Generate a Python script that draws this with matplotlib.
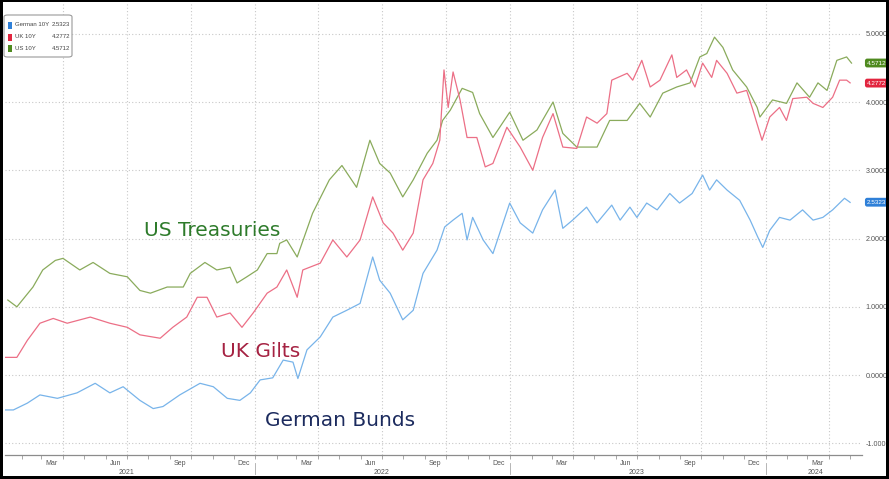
"""10Y government bond yields: US Treasuries vs UK Gilts vs German Bunds, 2021-2024."""

import matplotlib
matplotlib.use("Agg")
import matplotlib.dates as mdates
import matplotlib.pyplot as plt
import pandas as pd
from matplotlib.patches import FancyBboxPatch, Rectangle
from matplotlib.ticker import FuncFormatter
from matplotlib.transforms import blended_transform_factory

# --- data (approximate) ---
us_dates = [
    "2021-01-12", "2021-01-25", "2021-02-17", "2021-03-03", "2021-03-21", "2021-04-01",
    "2021-04-25", "2021-05-14", "2021-06-07", "2021-07-02", "2021-07-20", "2021-08-04",
    "2021-08-28", "2021-09-20", "2021-09-30", "2021-10-21", "2021-11-07", "2021-11-26",
    "2021-12-06", "2021-12-20", "2022-01-04", "2022-01-18", "2022-02-01", "2022-02-05",
    "2022-02-15", "2022-03-02", "2022-03-24", "2022-04-17", "2022-05-05", "2022-05-26",
    "2022-06-14", "2022-06-28", "2022-07-13", "2022-07-31", "2022-08-15", "2022-09-04",
    "2022-09-18", "2022-09-26", "2022-10-07", "2022-10-24", "2022-11-08", "2022-11-18",
    "2022-12-07", "2022-12-31", "2023-01-19", "2023-02-08", "2023-03-03", "2023-03-17",
    "2023-04-06", "2023-05-05", "2023-05-23", "2023-06-17", "2023-07-05", "2023-07-20",
    "2023-08-07", "2023-08-27", "2023-09-15", "2023-09-29", "2023-10-09", "2023-10-20",
    "2023-11-01", "2023-11-15", "2023-12-05", "2023-12-20", "2023-12-24", "2024-01-11",
    "2024-01-31", "2024-02-15", "2024-03-04", "2024-03-16", "2024-03-29", "2024-04-12",
    "2024-04-26", "2024-05-03",
]
us_vals = [
    1.10, 1.00, 1.29, 1.54, 1.68, 1.71,
    1.54, 1.65, 1.49, 1.44, 1.24, 1.20,
    1.29, 1.29, 1.49, 1.65, 1.54, 1.58,
    1.35, 1.44, 1.54, 1.78, 1.78, 1.93,
    1.98, 1.73, 2.37, 2.86, 3.07, 2.75,
    3.44, 3.10, 2.96, 2.61, 2.86, 3.25,
    3.44, 3.73, 3.88, 4.20, 4.14, 3.83,
    3.48, 3.85, 3.44, 3.59, 4.00, 3.54,
    3.34, 3.34, 3.73, 3.73, 3.98, 3.78,
    4.13, 4.22, 4.28, 4.66, 4.71, 4.95,
    4.80, 4.47, 4.22, 3.92, 3.78, 4.03,
    3.98, 4.28, 4.07, 4.28, 4.17, 4.61,
    4.66, 4.57,
]

uk_dates = [
    "2021-01-05", "2021-01-25", "2021-02-09", "2021-02-27", "2021-03-18", "2021-04-07",
    "2021-05-10", "2021-06-07", "2021-07-02", "2021-07-20", "2021-08-18", "2021-09-05",
    "2021-09-25", "2021-10-10", "2021-10-24", "2021-11-07", "2021-11-26", "2021-12-13",
    "2021-12-29", "2022-01-18", "2022-02-01", "2022-02-15", "2022-03-02", "2022-03-10",
    "2022-04-04", "2022-04-22", "2022-05-12", "2022-05-31", "2022-06-18", "2022-07-03",
    "2022-07-17", "2022-07-31", "2022-08-15", "2022-08-29", "2022-09-12", "2022-09-22",
    "2022-09-28", "2022-10-04", "2022-10-11", "2022-10-21", "2022-10-31", "2022-11-14",
    "2022-11-26", "2022-12-07", "2022-12-27", "2023-01-15", "2023-02-02", "2023-02-16",
    "2023-03-03", "2023-03-17", "2023-04-06", "2023-04-20", "2023-05-05", "2023-05-19",
    "2023-05-26", "2023-06-17", "2023-06-25", "2023-07-08", "2023-07-20", "2023-08-03",
    "2023-08-20", "2023-08-27", "2023-09-10", "2023-09-22", "2023-10-03", "2023-10-16",
    "2023-10-23", "2023-11-07", "2023-11-21", "2023-12-05", "2023-12-14", "2023-12-27",
    "2024-01-07", "2024-01-21", "2024-01-31", "2024-02-09", "2024-02-29", "2024-03-09",
    "2024-03-23", "2024-04-06", "2024-04-16", "2024-04-26", "2024-05-01",
]
uk_vals = [
    0.26, 0.26, 0.51, 0.76, 0.83, 0.76,
    0.85, 0.76, 0.70, 0.59, 0.54, 0.70,
    0.85, 1.14, 1.14, 0.85, 0.91, 0.70,
    0.91, 1.20, 1.29, 1.54, 1.14, 1.54,
    1.64, 1.98, 1.73, 1.98, 2.61, 2.23,
    2.08, 1.83, 2.08, 2.86, 3.10, 3.44,
    4.47, 3.92, 4.44, 4.03, 3.48, 3.48,
    3.05, 3.10, 3.63, 3.34, 3.00, 3.48,
    3.83, 3.34, 3.32, 3.78, 3.69, 3.83,
    4.32, 4.42, 4.32, 4.61, 4.22, 4.32,
    4.69, 4.36, 4.47, 4.22, 4.57, 4.36,
    4.61, 4.42, 4.13, 4.17, 3.88, 3.44,
    3.78, 3.92, 3.73, 4.05, 4.07, 3.98,
    3.92, 4.07, 4.32, 4.32, 4.28,
]

de_dates = [
    "2021-01-05", "2021-01-20", "2021-02-09", "2021-02-27", "2021-03-24", "2021-04-21",
    "2021-05-17", "2021-06-07", "2021-06-26", "2021-07-20", "2021-08-08", "2021-08-22",
    "2021-09-15", "2021-10-14", "2021-11-02", "2021-11-22", "2021-12-10", "2021-12-25",
    "2022-01-08", "2022-01-26", "2022-02-10", "2022-02-24", "2022-03-03", "2022-03-16",
    "2022-04-04", "2022-04-22", "2022-05-12", "2022-05-31", "2022-06-18", "2022-06-28",
    "2022-07-13", "2022-07-31", "2022-08-15", "2022-08-29", "2022-09-18", "2022-09-29",
    "2022-10-11", "2022-10-24", "2022-10-31", "2022-11-08", "2022-11-23", "2022-12-07",
    "2022-12-31", "2023-01-15", "2023-02-02", "2023-02-16", "2023-03-06", "2023-03-17",
    "2023-03-31", "2023-04-20", "2023-05-05", "2023-05-26", "2023-06-07", "2023-06-21",
    "2023-07-01", "2023-07-15", "2023-07-30", "2023-08-17", "2023-08-31", "2023-09-18",
    "2023-10-03", "2023-10-13", "2023-10-23", "2023-11-07", "2023-11-25", "2023-12-10",
    "2023-12-21", "2023-12-28", "2024-01-07", "2024-01-21", "2024-02-05", "2024-02-23",
    "2024-03-09", "2024-03-23", "2024-04-06", "2024-04-23", "2024-05-01",
]
de_vals = [
    -0.51, -0.51, -0.41, -0.29, -0.34, -0.26,
    -0.12, -0.26, -0.17, -0.37, -0.49, -0.46,
    -0.29, -0.12, -0.17, -0.34, -0.37, -0.26,
    -0.07, -0.04, 0.22, 0.19, -0.05, 0.37,
    0.56, 0.85, 0.95, 1.05, 1.73, 1.39,
    1.20, 0.81, 0.95, 1.49, 1.83, 2.17,
    2.27, 2.37, 1.98, 2.31, 1.98, 1.78,
    2.52, 2.23, 2.08, 2.42, 2.71, 2.15,
    2.27, 2.46, 2.23, 2.49, 2.27, 2.46,
    2.31, 2.52, 2.42, 2.66, 2.52, 2.66,
    2.93, 2.71, 2.86, 2.71, 2.56, 2.27,
    2.02, 1.87, 2.12, 2.31, 2.27, 2.42,
    2.27, 2.31, 2.42, 2.59, 2.53,
]

last_de, last_uk, last_us = 2.5323, 4.2772, 4.5712

month_label_dates = [
    "2021-03-15", "2021-06-15", "2021-09-15", "2021-12-15",
    "2022-03-15", "2022-06-15", "2022-09-15", "2022-12-15",
    "2023-03-15", "2023-06-15", "2023-09-15", "2023-12-15",
    "2024-03-15",
]
month_labels = ["Mar", "Jun", "Sep", "Dec"] * 3 + ["Mar"]
year_label_dates = ["2021-07-01", "2022-07-01", "2023-07-01", "2024-03-12"]
year_labels = ["2021", "2022", "2023", "2024"]
year_starts = ["2022-01-01", "2023-01-01", "2024-01-01"]

US_C, UK_C, DE_C = "#8aab5c", "#ec6f86", "#78b4ea"
TAG_US, TAG_UK, TAG_DE = "#4f8a1f", "#e2253f", "#2f80d8"
SMALL = "Liberation Sans"

W, H = 889, 479
fig = plt.figure(figsize=(W / 100, H / 100), dpi=100)
ax = fig.add_axes([5 / W, (H - 455) / H, (862 - 5) / W, (455 - 3) / H])

ax.plot(pd.to_datetime(us_dates), us_vals, color=US_C, lw=0.9)
ax.plot(pd.to_datetime(uk_dates), uk_vals, color=UK_C, lw=0.9)
ax.plot(pd.to_datetime(de_dates), de_vals, color=DE_C, lw=0.9)

ax.set_xlim(pd.Timestamp("2021-01-08"), pd.Timestamp("2024-05-18"))
ax.set_ylim(-1.17, 5.45)

# grid + axes styling
ax.set_yticks(range(-1, 6))
ax.yaxis.tick_right()
ax.yaxis.set_major_formatter(FuncFormatter(lambda v, _: f"{v:.4f}"))
ax.tick_params(axis="y", length=0, pad=2.5, labelsize=5.2, labelcolor="#555555")
for lab in ax.get_yticklabels():
    lab.set_family(SMALL)
ax.xaxis.set_major_locator(mdates.MonthLocator(bymonth=[1, 4, 7, 10]))
ax.xaxis.set_minor_locator(mdates.MonthLocator())
ax.xaxis.set_major_formatter(FuncFormatter(lambda v, _: ""))
ax.tick_params(axis="x", which="both", length=3, width=0.6, color="#999999")
ax.grid(axis="both", which="major", ls=(0, (1, 2)), color="#c8c8c8", lw=0.8)
for side in ("top", "left", "right"):
    ax.spines[side].set_visible(False)
ax.spines["bottom"].set_color("#8c8c8c")
ax.spines["bottom"].set_linewidth(0.9)

bx = blended_transform_factory(ax.transData, ax.transAxes)
for d, lab in zip(month_label_dates, month_labels):
    ax.text(pd.Timestamp(d), -0.018, lab, transform=bx, ha="center", va="center",
            fontsize=5, color="#555555", family=SMALL)
for d, lab in zip(year_label_dates, year_labels):
    ax.text(pd.Timestamp(d), -0.038, lab, transform=bx, ha="center", va="center",
            fontsize=5, color="#555555", family=SMALL)
for d in year_starts:
    ax.plot([pd.Timestamp(d)] * 2, [-0.018, -0.042], transform=bx, color="#aaaaaa",
            lw=0.6, clip_on=False)

# series labels
ax.text(pd.Timestamp("2021-11-01"), 2.12, "US Treasuries", color="#2e7b2b",
        fontsize=14.5, ha="center", va="center")
ax.text(pd.Timestamp("2022-01-09"), 0.34, "UK Gilts", color="#a52242",
        fontsize=14.5, ha="center", va="center")
ax.text(pd.Timestamp("2022-05-02"), -0.66, "German Bunds", color="#1c2b5e",
        fontsize=14.5, ha="center", va="center")

# last-value tags on the right axis (cut by the frame, as in the source)
by = blended_transform_factory(ax.transAxes, ax.transData)
for val, col in ((last_us, TAG_US), (last_uk, TAG_UK), (last_de, TAG_DE)):
    ax.annotate(f"{val:.4f}", xy=(1, val), xycoords=by, xytext=(3.5, 0),
                textcoords="offset points", ha="left", va="center", fontsize=4.6,
                color="white", family=SMALL, annotation_clip=False,
                bbox=dict(boxstyle="round,pad=0.3,rounding_size=0.35", fc=col, ec="none"))

# legend box, top-left
fig.add_artist(FancyBboxPatch((4 / W, 1 - 57 / H), 68 / W, 42 / H,
                              boxstyle="round,pad=0,rounding_size=0.004",
                              transform=fig.transFigure, fc="white", ec="#9a9a9a",
                              lw=0.8, zorder=5))
legend_rows = [("German 10Y", last_de, TAG_DE, 25), ("UK 10Y", last_uk, TAG_UK, 37),
               ("US 10Y", last_us, TAG_US, 48)]
for name, val, col, ypx in legend_rows:
    fig.add_artist(Rectangle((8 / W, 1 - (ypx + 3.5) / H), 4 / W, 7 / H,
                             transform=fig.transFigure, fc=col, ec="none", zorder=6))
    fig.text(15 / W, 1 - ypx / H, name, fontsize=4.3, color="#444444",
             ha="left", va="center", zorder=6, family=SMALL)
    fig.text(70 / W, 1 - ypx / H, f"{val:.4f}", fontsize=4.3, color="#444444",
             ha="right", va="center", zorder=6, family=SMALL)

# black frame around the picture
for x0, y0, w, h in ((0, 0, 3, H), (W - 3, 0, 3, H), (0, 0, W, 3), (0, H - 2, W, 2)):
    fig.add_artist(Rectangle((x0 / W, y0 / H), w / W, h / H, transform=fig.transFigure,
                             fc="black", ec="none", zorder=10))

fig.savefig("out.png", dpi=100)
